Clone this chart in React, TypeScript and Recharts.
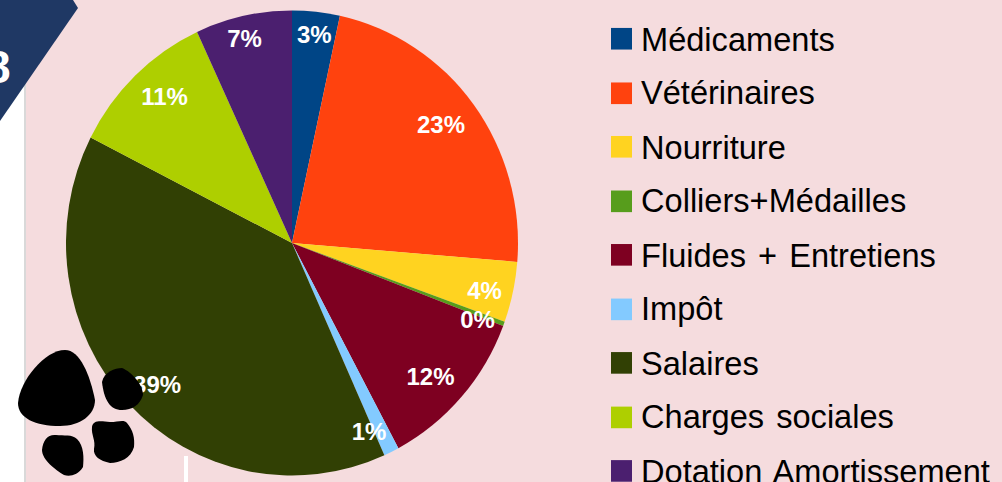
import React from "react";
import { PieChart, Pie, Cell, Legend } from "recharts";

const categories = ["Médicaments", "Vétérinaires", "Nourriture", "Colliers+Médailles", "Fluides + Entretiens", "Impôt", "Salaires", "Charges sociales", "Dotation Amortissement"];
const values = [3.4, 22.9, 4.2, 0.3, 11.4, 1.1, 39.2, 10.6, 6.9];
const percentLabels = ["3%", "23%", "4%", "0%", "12%", "1%", "39%", "11%", "7%"];
const colors = ["#004586", "#ff420e", "#ffd320", "#579d1c", "#7e0021", "#83caff", "#314004", "#aecf00", "#4b1f6f"];
const labelRadii = [209, 188, 197, 200, 190, 200, 193, 191, 207];
const labelNudgeX = [0, -2, 0, -2, -4, -11, 5, 5, -3];
const labelNudgeY = [5, -3, 4, 5, 4, 3, 4, -5, 3];

const data = categories.map((name, i) => ({ name, value: values[i] }));
const FONT = '"Liberation Sans", Arial, sans-serif';
const RAD = Math.PI / 180;

const renderLabel = (p: any) => {
  const r = labelRadii[p.index];
  const x = p.cx + r * Math.cos(-p.midAngle * RAD) + labelNudgeX[p.index];
  const y = p.cy + r * Math.sin(-p.midAngle * RAD) + labelNudgeY[p.index];
  return (
    <text x={x} y={y} fill="#fff" fontFamily={FONT} fontWeight="bold" fontSize={24} textAnchor="middle" dominantBaseline="central">
      {percentLabels[p.index]}
    </text>
  );
};

const renderLegend = (props: any) => (
  <div>
    {props.payload.map((e: any) => (
      <div key={e.value} style={{ height: 52.5, display: "flex", alignItems: "center", fontFamily: FONT, fontSize: 32.6, wordSpacing: 3, color: "#000", whiteSpace: "nowrap" }}>
        <span style={{ width: 21, height: 21, background: e.color, marginRight: 9, flex: "none" }} />
        {e.value}
      </div>
    ))}
  </div>
);

export default function App() {
  return (
    <div style={{ position: "fixed", left: 0, top: 0, width: 1002, height: 482, overflow: "hidden", background: "#f5dcde" }}>
      <div style={{ position: "absolute", left: 0, top: 0, width: 1002, height: 482, transform: "scaleY(1.029)", transformOrigin: "0 243px" }}>
        <PieChart width={1002} height={482} margin={{ top: 0, right: 0, bottom: 0, left: 0 }}>
          <Pie data={data} dataKey="value" nameKey="name" cx={292} cy={243} outerRadius={226} startAngle={90} endAngle={-270} stroke="none" isAnimationActive={false} label={renderLabel} labelLine={false}>
            {data.map((d, i) => <Cell key={d.name} fill={colors[i]} />)}
          </Pie>
          <Legend content={renderLegend} itemSorter={null} wrapperStyle={{ left: 611, top: 18.5, width: 391 }} />
        </PieChart>
      </div>
      <svg width={1002} height={482} style={{ position: "absolute", left: 0, top: 0 }}>
        <rect x={0} y={0} width={24} height={482} fill="#fff" />
        <rect x={24} y={0} width={2} height={482} fill="#d9d9d9" />
        <rect x={184} y={456} width={4} height={26} fill="#fff" />
        <polygon points="0,0 73,0 78,8 0,121" fill="#1f3864" />
        <text x={-15} y={83} fill="#fff" fontFamily={FONT} fontWeight="bold" fontSize={46}>8</text>
        <path d="M18,403 C20,380 45,350 65,350 C80,350 90,375 95,400 C95,415 80,426 60,426 C35,426 18,418 18,403 Z" fill="#000" />
        <path d="M102,382 C104,372 115,368 122,368 C132,372 143,385 143,395 C140,405 132,410 122,410 C110,410 104,400 102,382 Z" fill="#000" />
        <path d="M92,427 C93,420 100,421 110,422 C118,422 124,419 127,423 C133,430 135,438 134,447 C131,458 120,463 110,463 C100,461 93,456 94,449 C96,440 91,435 92,427 Z" fill="#000" />
        <path d="M42,450 C43,440 48,434 56,435 C64,436 72,434 77,439 C84,446 84,458 83,467 C78,475 70,477 64,475 C56,470 42,460 42,450 Z" fill="#000" />
      </svg>
    </div>
  );
}
